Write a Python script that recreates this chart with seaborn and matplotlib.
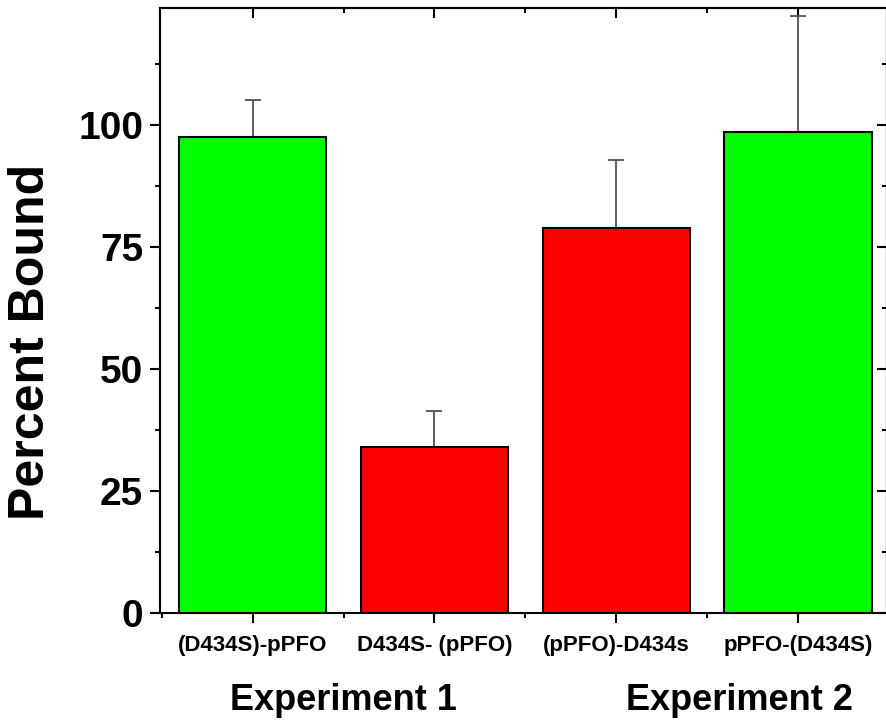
import matplotlib
matplotlib.use("Agg")
import matplotlib.pyplot as plt
from matplotlib.ticker import FixedLocator, MultipleLocator
import seaborn as sns

categories = ["(D434S)-pPFO", "D434S- (pPFO)", "(pPFO)-D434s", "pPFO-(D434S)"]
percent_bound = [97.5, 34.0, 78.9, 98.6]
err_upper = [7.6, 7.5, 14.0, 23.8]
bar_colors = ["#00ff00", "#ff0000", "#ff0000", "#00ff00"]
groups = ["Experiment 1", "Experiment 2"]

sns.set_style("white")
plt.rcParams["font.family"] = ["Liberation Sans", "DejaVu Sans"]
plt.rcParams["font.weight"] = "bold"
for key in ["text.color", "axes.labelcolor", "xtick.color", "ytick.color",
            "axes.edgecolor"]:
    plt.rcParams[key] = "black"

fig = plt.figure(figsize=(8.86, 7.23), dpi=100)
ax = fig.add_axes([0.1806, 0.1521, 0.8205, 0.8368])

sns.barplot(x=categories, y=percent_bound, hue=categories, palette=bar_colors,
            saturation=1, edgecolor="black", linewidth=1.5, width=0.81,
            legend=False, ax=ax, zorder=2)
ax.errorbar(range(len(categories)), percent_bound,
            yerr=[[0] * len(err_upper), err_upper], fmt="none",
            ecolor="#505050", elinewidth=1.3, capsize=6, capthick=1.3, zorder=1)

ax.set_xlim(-0.51, 3.49)
ax.set_ylim(0, 124)

# ticks: left/bottom point out, top/right point in
ax.yaxis.set_major_locator(FixedLocator([0, 25, 50, 75, 100]))
ax.yaxis.set_minor_locator(MultipleLocator(12.5))
ax.xaxis.set_minor_locator(FixedLocator([-0.5, 0.5, 1.5, 2.5]))
ax.tick_params(axis="both", which="major", direction="out", length=7, width=1.5,
               color="black")
ax.tick_params(axis="both", which="minor", direction="out", length=3.5, width=1.5,
               color="black")
ax.tick_params(axis="y", which="both", left=True, labelsize=28, pad=5)
ax.tick_params(axis="x", which="both", bottom=True, labelsize=16, pad=9)
for lab in ax.get_xticklabels() + ax.get_yticklabels():
    lab.set_fontweight("bold")

top = ax.secondary_xaxis("top")
top.xaxis.set_major_locator(FixedLocator([0, 1, 2, 3]))
top.xaxis.set_minor_locator(FixedLocator([0.5, 1.5, 2.5]))
top.tick_params(which="major", direction="in", length=7, width=1.5, labeltop=False)
top.tick_params(which="minor", direction="in", length=3.5, width=1.5)

right = ax.secondary_yaxis("right")
right.yaxis.set_major_locator(FixedLocator([0, 25, 50, 75, 100]))
right.yaxis.set_minor_locator(MultipleLocator(12.5))
right.tick_params(which="major", direction="in", length=7, width=1.5, labelright=False)
right.tick_params(which="minor", direction="in", length=3.5, width=1.5)

for sp in list(ax.spines.values()) + [top.spines["top"], right.spines["right"]]:
    sp.set_visible(True)
    sp.set_color("black")
    sp.set_linewidth(1.5)

ax.set_ylabel("Percent Bound", fontsize=36, fontweight="bold", va="center")
ax.yaxis.set_label_coords(-0.177, 0.448)
ax.set_xlabel("")

fig.text(343 / 886, 1 - 700 / 723, groups[0], fontsize=26, fontweight="bold",
         ha="center", va="center")
fig.text(740 / 886, 1 - 700 / 723, groups[1], fontsize=26, fontweight="bold",
         ha="center", va="center")

fig.savefig("out.png", dpi=100)
